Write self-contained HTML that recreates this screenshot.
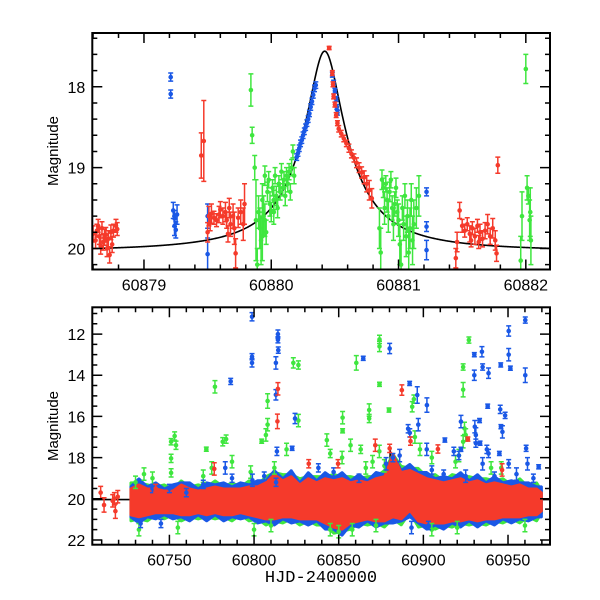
<!DOCTYPE html>
<html><head><meta charset="utf-8"><style>
html,body{margin:0;padding:0;background:#fff;}
svg{display:block;}
text{font-family:"Liberation Sans",sans-serif;}
</style></head><body>
<svg id="chart" width="600" height="600" viewBox="0 0 600 600" xmlns="http://www.w3.org/2000/svg">
<rect x="0" y="0" width="600" height="600" fill="#fff"/>
<defs>
<clipPath id="clipTop"><rect x="92.3" y="33" width="457.7" height="236.5"/></clipPath>
<clipPath id="clipBot"><rect x="92.3" y="307.3" width="457.7" height="237.4"/></clipPath>
</defs>
<g id="topPlot" clip-path="url(#clipTop)"></g>
<g id="botPlot" clip-path="url(#clipBot)"></g>
<g id="axes"></g>
<text x="0" y="0" transform="translate(58,151) rotate(-90)" text-anchor="middle" font-size="15">Magnitude</text>
<text x="0" y="0" transform="translate(58,426) rotate(-90)" text-anchor="middle" font-size="15">Magnitude</text>
<text x="321" y="582" text-anchor="middle" font-size="17" style="font-family:'Liberation Mono',monospace">HJD-2400000</text>
</svg>
<script>
// ---------- data ----------
var topRed = [[60878.60,19.82,0.1],[60878.62,19.9,0.1],[60878.63,19.78,0.08],[60878.65,19.85,0.1],[60878.67,19.75,0.08],[60878.68,19.92,0.1],[60878.70,19.83,0.09],[60878.71,20.0,0.1],[60878.72,19.88,0.1],[60878.73,20.08,0.1],[60878.74,19.8,0.09],[60878.75,19.95,0.1],[60878.76,19.78,0.08],[60878.78,19.72,0.08],[60878.79,19.76,0.08],[60878.66,19.97,0.1],[60878.64,19.72,0.08],[60878.69,19.86,0.1],
[60879.45,18.85,0.28],[60879.47,18.67,0.5],
[60879.50,19.8,0.12],[60879.51,19.6,0.12],[60879.52,19.68,0.1],[60879.53,19.57,0.12],[60879.55,19.62,0.08],[60879.57,19.65,0.08],[60879.59,19.58,0.1],[60879.60,19.52,0.1],[60879.62,19.6,0.1],[60879.64,19.55,0.12],[60879.65,19.65,0.1],[60879.67,19.5,0.12],[60879.68,19.7,0.15],[60879.70,19.6,0.15],[60879.71,19.75,0.2],[60879.72,20.06,0.18],[60879.74,19.62,0.12],[60879.76,19.55,0.15],[60879.78,19.7,0.2],[60879.79,19.45,0.25],[60879.66,19.82,0.1],
[60880.455,17.52,0.02],[60880.48,17.83,0.03],[60880.485,17.97,0.03],[60880.49,18.12,0.03],[60880.50,18.22,0.03],[60880.51,18.35,0.03],[60880.52,18.45,0.03],[60880.53,18.52,0.04],[60880.55,18.58,0.04],[60880.57,18.64,0.04],[60880.59,18.7,0.04],[60880.61,18.76,0.05],[60880.63,18.83,0.05],[60880.65,18.88,0.05],[60880.67,18.94,0.06],[60880.69,19.0,0.06],[60880.71,19.06,0.07],[60880.73,19.12,0.08],[60880.75,19.2,0.1],[60880.77,19.28,0.12],[60880.79,19.38,0.12],
[60881.45,20.12,0.12],[60881.46,19.92,0.12],[60881.48,19.53,0.1],[60881.50,19.72,0.08],[60881.52,19.78,0.08],[60881.54,19.7,0.08],[60881.56,19.82,0.1],[60881.58,19.75,0.08],[60881.60,19.85,0.1],[60881.62,19.72,0.08],[60881.64,19.8,0.1],[60881.66,19.88,0.1],[60881.68,19.78,0.1],[60881.70,19.7,0.12],[60881.72,19.85,0.1],[60881.74,19.75,0.12],[60881.76,19.9,0.12],[60881.77,20.06,0.1],[60881.78,18.97,0.1],[60881.57,19.9,0.08],[60881.63,19.92,0.08]];
var topBlue = [[60879.21,17.88,0.05],[60879.21,18.09,0.05],[60879.23,19.53,0.1],[60879.24,19.63,0.1],[60879.25,19.77,0.1],[60879.26,19.58,0.12],[60879.24,19.72,0.12],[60879.50,19.6,0.15],[60879.50,20.07,0.2],
[60880.20,18.87,0.04],[60880.21,18.82,0.04],[60880.22,18.76,0.04],[60880.23,18.7,0.04],[60880.24,18.66,0.04],[60880.25,18.6,0.04],[60880.26,18.55,0.04],[60880.27,18.5,0.04],[60880.28,18.45,0.04],[60880.29,18.4,0.04],[60880.30,18.33,0.04],[60880.31,18.25,0.04],[60880.32,18.18,0.04],[60880.33,18.1,0.04],[60880.34,18.02,0.04],[60880.35,17.98,0.04],
[60880.48,17.85,0.03],[60880.49,17.95,0.03],[60880.50,18.05,0.03],[60880.51,18.15,0.03],[60880.515,18.25,0.03],[60880.52,18.32,0.03],
[60881.22,19.3,0.05],[60881.22,19.73,0.06],[60881.22,20.02,0.12]];
var topGreen = [[60879.84,18.04,0.2],[60879.85,18.6,0.1],[60879.87,19.0,0.15],[60879.88,19.65,0.5],[60879.89,20.2,0.2],[60879.90,19.55,0.2],[60879.91,19.75,0.25],[60879.92,19.9,0.3],[60879.93,19.4,0.2],[60879.94,19.6,0.25],[60879.95,19.1,0.12],[60879.96,19.8,0.15],[60879.97,19.3,0.12],[60879.98,19.15,0.1],[60879.99,19.45,0.15],[60880.00,19.55,0.12],[60880.01,19.25,0.1],[60880.02,19.4,0.12],[60880.03,19.1,0.1],[60880.04,19.35,0.12],[60880.05,19.5,0.12],[60880.06,19.2,0.1],[60880.07,19.3,0.1],[60880.08,19.05,0.1],[60880.09,19.25,0.1],[60880.10,19.15,0.1],[60880.11,19.35,0.12],[60880.12,19.1,0.1],[60880.13,19.2,0.1],[60880.14,19.05,0.1],[60880.15,19.3,0.1],[60880.16,19.0,0.1],[60880.17,18.8,0.08],[60880.18,19.1,0.1],[60879.95,19.65,0.2],[60880.02,19.55,0.15],[60879.93,19.85,0.3],
[60880.85,19.75,0.25],[60880.86,20.05,0.3],[60880.87,19.15,0.12],[60880.88,19.25,0.12],[60880.89,19.5,0.2],[60880.90,19.2,0.1],[60880.91,19.4,0.15],[60880.92,19.6,0.2],[60880.93,19.3,0.12],[60880.94,19.15,0.1],[60880.95,19.5,0.15],[60880.96,19.7,0.2],[60880.97,19.45,0.15],[60880.98,19.25,0.12],[60880.99,19.55,0.15],[60881.00,19.65,0.2],[60881.01,19.95,0.25],[60881.02,20.2,0.3],[60881.03,19.5,0.15],[60881.04,19.7,0.2],[60881.05,19.35,0.15],[60881.06,19.85,0.25],[60881.07,19.6,0.2],[60881.08,20.05,0.3],[60881.09,19.75,0.25],[60881.10,19.4,0.2],[60881.11,19.9,0.3],[60881.12,19.7,0.3],[60881.14,19.5,0.25],[60881.16,19.35,0.25],
[60881.96,20.15,0.3],[60881.97,19.6,0.3],[60882.00,17.78,0.18],[60882.01,19.25,0.15],[60882.02,19.35,0.1],[60882.03,19.65,0.25],[60882.04,19.9,0.3],[60882.035,19.55,0.3]];

var bandT = [60727,60732,60737,60742,60747,60752,60757,60762,60767,60772,60777,60782,60787,60792,60797,60802,60807,60812,60817,60822,60827,60832,60837,60842,60847,60852,60857,60862,60867,60872,60877,60882,60887,60892,60897,60902,60907,60912,60917,60922,60927,60932,60937,60942,60947,60952,60957,60962,60967,60970];
var redHi = [19.5,19.3,19.5,19.5,19.6,19.6,19.3,19.5,19.6,19.5,19.4,19.5,19.5,19.5,19.4,19.4,19.2,18.8,19.1,18.9,19.3,19.0,19.2,19.0,19.1,19.0,19.2,19.1,19.2,19.0,18.9,17.8,18.7,18.6,18.8,19.0,19.1,19.2,19.1,19.0,19.2,19.1,19.3,19.2,19.3,19.4,19.3,19.5,19.5,19.7];
var redLo = [20.8,20.9,20.8,20.7,20.7,20.7,20.8,20.8,20.7,20.8,20.7,20.8,20.8,20.7,20.8,20.9,21.0,21.0,20.9,20.9,21.0,21.0,21.0,21.2,21.4,21.5,21.2,21.1,21.0,21.1,21.1,20.9,21.0,20.6,21.1,21.2,21.2,21.2,21.1,21.1,21.0,21.1,21.0,21.0,20.9,20.9,20.9,20.8,20.8,20.6];
var greenHi = [19.2,19.2,19.3,19.4,19.3,19.5,19.1,19.4,19.3,19.4,19.1,19.4,19.2,19.4,19.1,19.3,18.9,18.7,18.8,18.8,19.0,18.9,18.9,18.9,18.8,18.9,18.9,19.0,18.9,18.9,18.6,17.8,18.4,18.5,18.5,18.9,18.8,19.1,18.8,18.9,18.9,19.0,19.0,19.1,19.0,19.3,19.0,19.4,19.2,19.6];
var greenLo = [21.1,21.0,21.1,20.8,21.0,20.8,21.1,20.9,21.0,20.9,21.0,20.9,21.1,20.8,21.1,21.0,21.3,21.1,21.2,21.0,21.3,21.1,21.3,21.3,21.7,21.6,21.5,21.2,21.3,21.2,21.4,21.0,21.3,20.7,21.4,21.3,21.5,21.3,21.4,21.2,21.3,21.2,21.3,21.1,21.2,21.0,21.2,20.9,21.1,20.7];
var blueHi = [19.4,19.0,19.4,19.2,19.5,19.3,19.2,19.2,19.5,19.2,19.3,19.2,19.4,19.2,19.3,19.1,19.1,18.6,19.0,18.6,19.2,18.7,19.1,18.7,19.0,18.7,19.1,18.8,19.1,18.7,18.8,17.8,18.6,18.3,18.7,18.7,19.0,18.9,19.0,18.7,19.1,18.8,19.2,18.9,19.2,19.1,19.2,19.2,19.4,19.4];
var blueLo = [20.9,21.2,20.9,21.0,20.8,21.0,20.9,21.1,20.8,21.1,20.8,21.1,20.9,21.0,20.9,21.2,21.1,21.3,21.0,21.2,21.1,21.3,21.1,21.5,21.5,21.8,21.3,21.4,21.1,21.4,21.2,21.2,21.1,20.9,21.2,21.5,21.3,21.5,21.2,21.4,21.1,21.4,21.1,21.3,21.0,21.2,21.0,21.1,20.9,20.9];

var botBlue = [[60798.8,11.16,0.2],[60798.8,13.1,0.15],[60798.8,13.4,0.2],[60814.1,12.0,0.2],[60814.1,12.28,0.15],[60812.9,13.4,0.3],[60814.3,12.78,0.15],[60812.9,14.95,0.25],[60813.5,17.7,0.2],[60786.2,14.3,0.15],[60824.2,16.1,0.25],[60864.5,13.18,0.1],[60880.1,12.7,0.25],[60891.9,14.4,0.1],[60896.4,14.96,0.4],[60902.1,15.45,0.35],[60912.7,17.15,0.1],
[60934.6,12.86,0.25],[60930.1,13.0,0.1],[60935,13.6,0.15],[60938.5,13.9,0.25],[60930.1,14.0,0.25],[60945.7,13.5,0.1],[60951.4,13.66,0.1],[60950.4,13.0,0.3],[60950.4,11.85,0.25],[60960.2,11.32,0.15],[60960.2,14.0,0.35],[60938,15.5,0.1],[60945.4,15.66,0.2],[60948.3,15.95,0.15],[60945.8,16.5,0.1],[60946.7,16.75,0.3],[60930.4,16.5,0.3],[60922.2,16.25,0.3],[60933.2,16.2,0.1],[60931,16.9,0.35],[60931,17.3,0.2],[60933.5,17.3,0.1],[60922.2,17.6,0.1],[60937.5,17.6,0.2],[60960.7,17.55,0.15],[60968.1,18.45,0.1],[60944.9,17.8,0.1],[60938.5,17.8,0.2],[60950.4,18.3,0.2],[60961.5,18.3,0.3],
[60783,18.5,0.3],[60787,19.0,0.2],[60799,19.1,0.3],[60806,18.9,0.2],[60813,19.2,0.2],[60822.5,17.55,0.1],[60838,18.5,0.2],[60847,18.7,0.2],[60862,19.0,0.2],[60878,18.3,0.3],[60882,18.0,0.2],[60886,17.9,0.3],[60891,16.6,0.2],[60892,16.8,0.2],[60897,16.4,0.3],[60902,17.6,0.3],[60905,18.6,0.2],[60918,17.7,0.2],[60921,17.9,0.2],[60925,18.9,0.3],[60935,18.3,0.3],[60942,18.9,0.2],[60912,18.8,0.2],[60955,18.8,0.3],[60965,19.0,0.2],[60740,19.5,0.2],[60750,19.5,0.2],[60760,19.7,0.2],[60770,19.3,0.2],[60733,21.2,0.2],[60745,21.2,0.2],[60893,21.4,0.3],[60903,21.3,0.2]];
var botGreen = [[60776.9,14.56,0.3],[60751,17.23,0.15],[60753.1,16.95,0.2],[60753.9,17.4,0.2],[60751,18.04,0.2],[60751,18.74,0.2],[60771.8,17.59,0.1],[60781.5,17.23,0.2],[60783.5,17.1,0.2],[60808,15.25,0.35],[60808,16.4,0.3],[60807,16.9,0.3],[60804.5,17.2,0.1],[60823.2,13.4,0.25],[60826.2,13.5,0.2],[60826.2,16.2,0.3],[60819.2,17.6,0.3],[60860.4,13.4,0.35],[60852.3,16.06,0.3],[60852.3,16.7,0.1],[60843,17.15,0.3],[60874.1,12.26,0.2],[60874.1,12.6,0.25],[60874.1,14.44,0.1],[60868,15.69,0.3],[60868,16.1,0.2],[60879.7,15.69,0.1],[60893.4,15.53,0.25],[60894.4,15.16,0.2],[60926.9,12.29,0.15],[60923.5,13.6,0.15],[60923.5,14.7,0.35],[60923.5,17.23,0.3],[60924.3,16.58,0.3],
[60845,17.8,0.2],[60852,18.0,0.3],[60857,17.4,0.3],[60863,17.6,0.2],[60870,18.2,0.3],[60874,17.7,0.3],[60866,18.5,0.3],[60877,18.4,0.3],[60895,17.0,0.3],[60898,17.6,0.3],[60905,18.0,0.3],[60919,18.2,0.3],[60921,17.9,0.3],[60925,16.9,0.3],[60940,18.5,0.3],[60946,18.5,0.3],[60798,18.7,0.3],[60812,18.5,0.3],[60787,18.2,0.3],[60770,18.9,0.3],[60775,18.5,0.3],[60730,19.2,0.3],[60735,18.8,0.3],[60740,19.0,0.3],[60800,21.5,0.3],[60850,21.6,0.3],[60858,21.5,0.3],[60810,21.3,0.3],[60755,21.4,0.3],[60732,21.5,0.3],[60872,21.3,0.3],[60905,21.5,0.3],[60960,21.3,0.3],[60845,21.5,0.3],[60920,21.4,0.3]];
var botRed = [[60814.1,14.66,0.3],[60813.8,16.24,0.35],[60776.5,18.55,0.3],[60871.6,17.4,0.3],[60887.3,14.72,0.25],[60892.4,17.2,0.2],[60908.6,17.58,0.2],[60926.3,17.1,0.1],[60832.3,18.3,0.2],[60849.6,18.3,0.2],[60880.1,17.55,0.2],[60741.9,19.5,0.2],[60709.4,19.7,0.3],[60711.4,20.3,0.35],[60716.5,20.1,0.3],[60718.1,20.6,0.35],[60719.5,19.9,0.3],[60717.5,20.0,0.3],[60946.5,18.6,0.3]];

var topXTicks = [60879,60880,60881,60882];
var topYTicks = [18,19,20];
var botXTicks = [60750,60800,60850,60900,60950];
var botYTicks = [12,14,16,18,20,22];

// ---------- axes ----------
var topXDom=[60878.594,60882.19], topYDom=[17.335,20.26];
var botXDom=[60704.46,60974.8], botYDom=[10.70,22.23];
var topBox={x0:92.3,x1:550,y0:33,y1:269.5};
var botBox={x0:92.3,x1:550,y0:307.3,y1:544.7};
function lin(d,r){return function(v){return r[0]+(v-d[0])/(d[1]-d[0])*(r[1]-r[0]);};}
var txs=lin(topXDom,[topBox.x0,topBox.x1]), tys=lin(topYDom,[topBox.y0,topBox.y1]);
var bxs=lin(botXDom,[botBox.x0,botBox.x1]), bys=lin(botYDom,[botBox.y0,botBox.y1]);

var NS="http://www.w3.org/2000/svg";
function mk(tag,parent,attrs){var e=document.createElementNS(NS,tag);for(var k in attrs)e.setAttribute(k,attrs[k]);parent.appendChild(e);return e;}

var COL={red:"#f53a2b",green:"#3fe63f",blue:"#1a58e6"};
var topG=document.getElementById('topPlot'), botG=document.getElementById('botPlot'), axG=document.getElementById('axes');

function drawPoints(g,data,xs,ys,col,name,r,sw){
  var grp=mk('g',g,{});
  
  
  data.forEach(function(p){
    var x=xs(p[0]), y=ys(p[1]), y1=ys(p[1]-p[2]), y2=ys(p[1]+p[2]);
    var path=mk('path',grp,{d:'M'+x+' '+y1+'V'+y2+'M'+(x-2.5)+' '+y1+'H'+(x+2.5)+'M'+(x-2.5)+' '+y2+'H'+(x+2.5),stroke:col,'stroke-width':sw,fill:'none'});
    
    
    var c=mk('circle',grp,{cx:x,cy:y,r:r,fill:col});
    
    
  });
}
function drawBand(g,hi,lo,col,name){
  var d='';
  for(var i=0;i<bandT.length;i++){d+=(i?'L':'M')+bxs(bandT[i])+' '+bys(hi[i]);}
  for(var j=bandT.length-1;j>=0;j--){d+='L'+bxs(bandT[j])+' '+bys(lo[j]);}
  var p=mk('path',g,{d:d+'Z',fill:col,stroke:col,'stroke-width':2,'stroke-linejoin':'bevel'});
  
  
}
var modelBase=20.04, modelPeakFlux=8.82, modelT0=60880.42, modelW=0.118;
function model(t){var x=(t-modelT0)/modelW;return modelBase-2.5*Math.log10(1+modelPeakFlux/(1+x*x));}
function drawModel(g,xs,ys,dom,n,name){
  var d='';
  for(var i=0;i<=n;i++){var t=dom[0]+(dom[1]-dom[0])*i/n;d+=(i?'L':'M')+xs(t).toFixed(2)+' '+ys(model(t)).toFixed(2);}
  var p=mk('path',g,{d:d,fill:'none',stroke:'#000','stroke-width':1.6});
  
  
}

drawModel(topG,txs,tys,topXDom,900,'model-curve-zoom');
drawPoints(topG,topGreen,txs,tys,COL.green,'green-series-zoom',2.3,1.5);
drawPoints(topG,topBlue,txs,tys,COL.blue,'blue-series-zoom',2.3,1.5);
drawPoints(topG,topRed,txs,tys,COL.red,'red-series-zoom',2.3,1.5);

drawModel(botG,bxs,bys,botXDom,2000,'model-curve-full');
drawBand(botG,greenHi,greenLo,COL.green,'green-band');
drawBand(botG,blueHi,blueLo,COL.blue,'blue-band');
drawBand(botG,redHi,redLo,COL.red,'red-band');
drawPoints(botG,botGreen,bxs,bys,COL.green,'green-series-full',2.3,1.5);
drawPoints(botG,botBlue,bxs,bys,COL.blue,'blue-series-full',2.3,1.5);
drawPoints(botG,botRed,bxs,bys,COL.red,'red-series-full',2.3,1.5);

function frame(box,xs,ys,xTicks,yTicks,xMinor,yMinor,xDom,yDom,prefix){
  var f=mk('rect',axG,{x:box.x0,y:box.y0,width:box.x1-box.x0,height:box.y1-box.y0,fill:'none',stroke:'#000','stroke-width':2});
  
  
  var d='';
  var s=Math.ceil(xDom[0]/xMinor-1e-6);
  for(var k=s;k*xMinor<=xDom[1];k++){var v=k*xMinor;var x=xs(v);var maj=xTicks.some(function(t){return Math.abs(t-v)<1e-6;});var L=maj?10:5;d+='M'+x+' '+box.y1+'v'+(-L)+'M'+x+' '+box.y0+'v'+L;}
  s=Math.ceil(yDom[0]/yMinor-1e-6);
  for(k=s;k*yMinor<=yDom[1];k++){var v2=k*yMinor;var y=ys(v2);var maj2=yTicks.some(function(t){return Math.abs(t-v2)<1e-6;});var L2=maj2?10:5;d+='M'+box.x0+' '+y+'h'+L2+'M'+box.x1+' '+y+'h'+(-L2);}
  var tk=mk('path',axG,{d:d,stroke:'#000','stroke-width':1.5,fill:'none'});
  
  
  xTicks.forEach(function(t){
    var tx=mk('text',axG,{x:xs(t),y:box.y1+21,'text-anchor':'middle','font-size':16});
    
    
    tx.textContent=t;
  });
  yTicks.forEach(function(t){
    var ty=mk('text',axG,{x:box.x0-7,y:ys(t)+6,'text-anchor':'end','font-size':16});
    
    
    ty.textContent=t;
  });
}
frame(topBox,txs,tys,topXTicks,topYTicks,0.2,0.2,topXDom,topYDom,'top');
frame(botBox,bxs,bys,botXTicks,botYTicks,10,0.5,botXDom,botYDom,'bottom');
</script>
</body></html>
